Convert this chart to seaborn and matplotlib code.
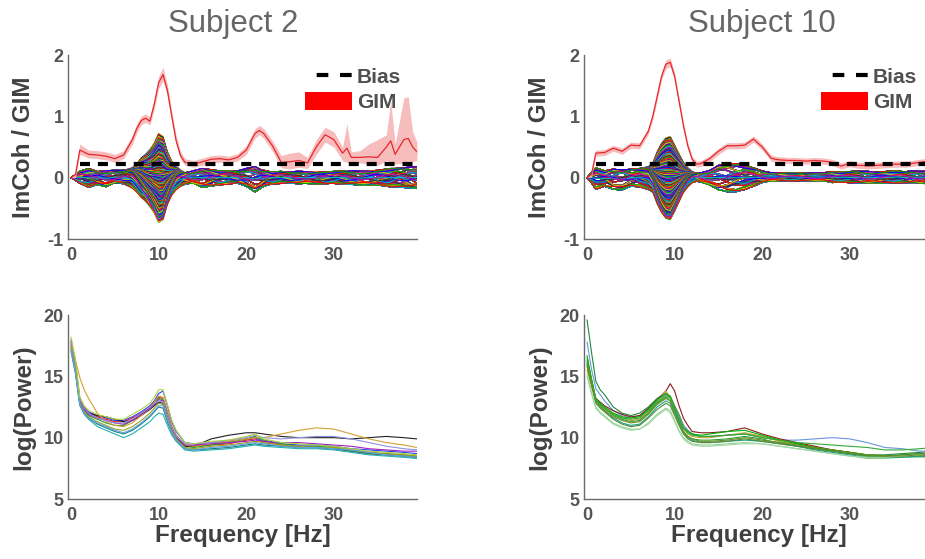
import numpy as np
import pandas as pd
import matplotlib
matplotlib.use("Agg")
import matplotlib.pyplot as plt
import seaborn as sns
from matplotlib.lines import Line2D
from matplotlib.patches import Patch

# ---------------------------------------------------------------- data
SUBJECTS = ["Subject 2", "Subject 10"]

# frequency nodes (Hz) for the connectivity panels
F_TOP = [0, 0.5, 1, 2, 3, 4, 5, 6, 7, 7.5, 8, 8.5, 9, 9.5, 10, 10.5, 11, 11.5,
         12, 12.5, 13, 14, 15, 16, 17, 18, 19, 20, 21, 21.5, 22, 23, 24, 25,
         26, 27, 28, 29, 30, 31, 31.5, 32, 33, 34, 35, 36, 36.5, 37, 38, 38.5,
         39, 39.5]

BIAS = [0.22, 0.22]

# GIM mean and its confidence band
GIM_S2 = [0.0, 0.05, 0.45, 0.38, 0.37, 0.35, 0.31, 0.37, 0.62, 0.80, 0.93, 0.97,
          0.92, 1.20, 1.55, 1.68, 1.42, 1.00, 0.60, 0.36, 0.25, 0.22, 0.26, 0.30,
          0.31, 0.29, 0.33, 0.45, 0.72, 0.77, 0.72, 0.52, 0.25, 0.26, 0.28, 0.24,
          0.50, 0.70, 0.62, 0.40, 0.48, 0.33, 0.33, 0.34, 0.33, 0.50, 0.60, 0.38,
          0.62, 0.64, 0.50, 0.42]
GIM_S2_HI = [0.0, 0.10, 0.55, 0.45, 0.44, 0.42, 0.38, 0.44, 0.70, 0.88, 1.00, 1.04,
             0.99, 1.28, 1.65, 1.80, 1.52, 1.08, 0.68, 0.43, 0.31, 0.28, 0.32, 0.36,
             0.37, 0.35, 0.39, 0.52, 0.80, 0.85, 0.80, 0.60, 0.36, 0.40, 0.42, 0.33,
             0.62, 0.82, 0.75, 0.50, 0.88, 0.42, 0.44, 0.55, 0.62, 0.70, 1.25, 0.55,
             1.30, 1.32, 0.75, 0.58]
GIM_S2_LO = [0.0, 0.0, 0.38, 0.32, 0.31, 0.29, 0.25, 0.31, 0.55, 0.73, 0.86, 0.90,
             0.86, 1.12, 1.46, 1.58, 1.33, 0.93, 0.53, 0.30, 0.20, 0.17, 0.20, 0.24,
             0.25, 0.24, 0.27, 0.38, 0.64, 0.70, 0.64, 0.43, 0.16, 0.14, 0.17, 0.15,
             0.38, 0.58, 0.50, 0.28, 0.25, 0.22, 0.24, 0.22, 0.20, 0.28, 0.25, 0.22,
             0.24, 0.22, 0.26, 0.28]

GIM_S10 = [0.0, 0.05, 0.40, 0.41, 0.48, 0.43, 0.53, 0.52, 0.76, 1.00, 1.32, 1.65,
           1.85, 1.88, 1.65, 1.25, 0.85, 0.52, 0.30, 0.22, 0.23, 0.31, 0.43, 0.52,
           0.52, 0.53, 0.63, 0.50, 0.32, 0.30, 0.29, 0.28, 0.28, 0.27, 0.28, 0.27,
           0.25, 0.19, 0.23, 0.20, 0.20, 0.19, 0.20, 0.21, 0.22, 0.22, 0.22, 0.23,
           0.25, 0.26, 0.26, 0.27]
GIM_S10_HI = [0.0, 0.09, 0.45, 0.46, 0.53, 0.48, 0.58, 0.57, 0.81, 1.06, 1.38, 1.71,
              1.92, 1.95, 1.71, 1.31, 0.91, 0.57, 0.35, 0.27, 0.28, 0.36, 0.48, 0.57,
              0.57, 0.58, 0.68, 0.55, 0.37, 0.35, 0.34, 0.33, 0.33, 0.32, 0.33, 0.32,
              0.30, 0.24, 0.28, 0.25, 0.25, 0.24, 0.25, 0.26, 0.27, 0.27, 0.27, 0.28,
              0.30, 0.31, 0.31, 0.32]
GIM_S10_LO = [0.0, 0.01, 0.35, 0.36, 0.43, 0.38, 0.48, 0.47, 0.71, 0.94, 1.26, 1.59,
              1.78, 1.81, 1.59, 1.19, 0.79, 0.47, 0.25, 0.17, 0.18, 0.26, 0.38, 0.47,
              0.47, 0.48, 0.58, 0.45, 0.27, 0.25, 0.24, 0.23, 0.23, 0.22, 0.23, 0.22,
              0.20, 0.14, 0.18, 0.15, 0.15, 0.14, 0.15, 0.16, 0.17, 0.17, 0.17, 0.18,
              0.20, 0.21, 0.21, 0.22]

# ImCoh of all channel pairs: alpha-band lobe plus background profiles
ALPHA_S2 = [0, 0, 0, 0, 0, 0, 0, 0, 0.03, 0.10, 0.20, 0.28, 0.38, 0.50, 0.66,
            0.62, 0.36, 0.18, 0.07, 0.02, 0, 0, 0, 0, 0, 0, 0, 0, 0, 0, 0, 0, 0,
            0, 0, 0, 0, 0, 0, 0, 0, 0, 0, 0, 0, 0, 0, 0, 0, 0, 0, 0]
BG_UP_S2 = [0, 0.05, 0.10, 0.15, 0.10, 0.11, 0.11, 0.12, 0.13, 0.12, 0.12, 0.10,
            0.08, 0.06, 0.05, 0.05, 0.06, 0.08, 0.11, 0.10, 0.08, 0.11, 0.15, 0.13,
            0.11, 0.10, 0.11, 0.14, 0.18, 0.14, 0.12, 0.09, 0.10, 0.09, 0.10, 0.09,
            0.10, 0.09, 0.10, 0.11, 0.10, 0.11, 0.10, 0.11, 0.12, 0.14, 0.15, 0.15,
            0.16, 0.17, 0.17, 0.18]
BG_LO_S2 = [0, -0.04, -0.08, -0.16, -0.11, -0.14, -0.08, -0.10, -0.14, -0.13,
            -0.12, -0.10, -0.08, -0.06, -0.05, -0.05, -0.07, -0.10, -0.12, -0.12,
            -0.11, -0.08, -0.15, -0.14, -0.11, -0.10, -0.09, -0.14, -0.23, -0.18,
            -0.14, -0.10, -0.09, -0.09, -0.10, -0.09, -0.09, -0.10, -0.09, -0.11,
            -0.11, -0.11, -0.12, -0.11, -0.12, -0.14, -0.15, -0.15, -0.16, -0.17,
            -0.17, -0.17]
BG_MIX1_S2 = [0, 0.03, 0.06, 0.02, -0.05, -0.07, -0.02, 0.05, 0.07, 0.06, 0.04,
              0.0, -0.03, -0.04, -0.03, 0.0, 0.03, 0.05, 0.06, 0.04, 0.0, -0.06,
              -0.08, -0.03, 0.04, 0.07, 0.05, -0.02, -0.09, -0.08, -0.04, 0.03,
              0.06, 0.05, 0.0, -0.05, -0.06, -0.02, 0.04, 0.06, 0.05, 0.02, -0.04,
              -0.07, -0.05, 0.02, 0.05, 0.07, 0.05, 0.02, -0.04, -0.08]
BG_MIX2_S2 = [0, -0.02, -0.05, -0.07, -0.02, 0.05, 0.07, 0.03, -0.04, -0.06, -0.05,
              -0.02, 0.01, 0.03, 0.04, 0.03, 0.0, -0.03, -0.06, -0.05, -0.01, 0.05,
              0.04, -0.03, -0.07, -0.04, 0.03, 0.08, 0.06, 0.02, -0.03, -0.06, -0.03,
              0.03, 0.06, 0.04, -0.02, -0.06, -0.05, 0.0, 0.03, 0.05, 0.06, 0.02,
              -0.04, -0.07, -0.06, -0.02, 0.04, 0.06, 0.07, 0.06]

ALPHA_S10 = [0, 0, 0, 0, 0, 0, 0, 0, 0.02, 0.12, 0.34, 0.50, 0.60, 0.62, 0.48,
             0.33, 0.18, 0.08, 0.02, 0, 0, 0, 0, 0, 0, 0, 0, 0, 0, 0, 0, 0, 0, 0,
             0, 0, 0, 0, 0, 0, 0, 0, 0, 0, 0, 0, 0, 0, 0, 0, 0, 0]
BG_UP_S10 = [0, 0.08, 0.16, 0.11, 0.14, 0.12, 0.14, 0.15, 0.16, 0.12, 0.08, 0.06,
             0.05, 0.05, 0.05, 0.06, 0.07, 0.08, 0.08, 0.07, 0.08, 0.11, 0.20, 0.23,
             0.23, 0.20, 0.16, 0.11, 0.08, 0.08, 0.08, 0.08, 0.08, 0.07, 0.08, 0.08,
             0.10, 0.09, 0.10, 0.11, 0.10, 0.10, 0.09, 0.10, 0.11, 0.10, 0.10, 0.11,
             0.10, 0.11, 0.10, 0.11]
BG_LO_S10 = [0, -0.08, -0.19, -0.14, -0.19, -0.20, -0.14, -0.15, -0.18, -0.12,
             -0.08, -0.06, -0.05, -0.05, -0.06, -0.06, -0.06, -0.07, -0.06, -0.06,
             -0.07, -0.11, -0.19, -0.23, -0.23, -0.19, -0.14, -0.08, -0.05, -0.05,
             -0.05, -0.05, -0.05, -0.05, -0.05, -0.05, -0.08, -0.07, -0.08, -0.09,
             -0.08, -0.08, -0.08, -0.09, -0.08, -0.08, -0.09, -0.08, -0.08, -0.09,
             -0.08, -0.08]
BG_MIX1_S10 = [0, 0.04, 0.07, 0.02, -0.06, -0.04, 0.04, 0.06, 0.02, 0.01, 0.02,
               0.0, -0.02, -0.02, -0.02, 0.0, 0.02, 0.03, 0.03, 0.02, -0.02, -0.06,
               -0.09, -0.05, 0.03, 0.08, 0.06, 0.01, -0.03, -0.03, -0.01, 0.02,
               0.03, 0.01, -0.02, -0.03, -0.01, 0.03, 0.05, 0.03, -0.01, -0.04,
               -0.05, -0.02, 0.03, 0.05, 0.04, 0.0, -0.04, -0.05, -0.02, 0.03]
BG_MIX2_S10 = [0, -0.03, -0.06, -0.06, 0.03, 0.07, 0.02, -0.05, -0.06, -0.03,
               -0.01, 0.0, 0.01, 0.02, 0.02, 0.01, -0.01, -0.02, -0.03, -0.02, 0.02,
               0.06, 0.05, 0.0, -0.06, -0.08, -0.03, 0.02, 0.03, 0.02, -0.01, -0.03,
               -0.02, 0.02, 0.03, 0.01, -0.03, -0.04, -0.02, 0.02, 0.04, 0.05, 0.01,
               -0.03, -0.05, -0.03, 0.01, 0.04, 0.05, 0.02, -0.03, -0.05]

# alpha-lobe loading of each channel pair
PAIR_ALPHA_W = [1.0, 0.94, 0.87, 0.8, 0.73, 0.66, 0.59, 0.52, 0.45, 0.39, 0.33,
                0.27, 0.21, 0.16, 0.11, 0.06, 0.02, -0.03, -0.08, -0.13, -0.19,
                -0.25, -0.31, -0.38, -0.45, -0.52, -0.6, -0.68, -0.76, -0.84,
                -0.92, -1.02]
# background loadings (upper, lower, wiggle 1, wiggle 2)
PAIR_BG_W = [(1.0, 0, 0, 0), (0, 1.0, 0, 0), (0.75, 0, 0.4, 0), (0, 0.75, 0, 0.4),
             (0.5, 0, 0, 0.7), (0, 0.5, 0.7, 0), (0.3, 0, 0.9, 0), (0, 0.3, 0, 0.9),
             (0.15, 0, 0, -1.0), (0, 0.15, -1.0, 0), (0.6, 0, -0.6, 0),
             (0, 0.6, 0, -0.6), (0.9, 0, 0, 0.3), (0, 0.9, 0.3, 0), (0, 0, 1.2, 0),
             (0, 0, 0, 1.2), (0.4, 0, -0.5, 0.5), (0, 0.4, 0.5, -0.5),
             (0.2, 0.2, 0.6, 0.6), (0.2, 0.2, -0.6, -0.6), (0.85, 0, 0.2, -0.2),
             (0, 0.85, -0.2, 0.2), (0.35, 0.35, 0, 0), (0.1, 0, 0.4, -0.4)]

PAIR_COLORS = ["#0000ff", "#00a000", "#ff0000", "#00c0c0", "#c000c0",
               "#d0d000", "#303030"]

# power spectra, one row per channel
F_POW = [0, 0.5, 1, 1.5, 2, 3, 4, 5, 6, 7, 8, 9, 9.5, 10, 10.5, 11, 11.5, 12,
         13, 14, 16, 18, 20, 21, 22, 24, 26, 28, 30, 32, 34, 36, 38, 39.5]

POW_S2 = [
    [18.0, 16.0, 13.2, 12.5, 12.1, 11.8, 11.6, 11.4, 11.4, 11.7, 12.1, 12.6, 13.0, 13.6, 13.8, 12.6, 11.3, 10.5, 9.6, 9.5, 9.6, 9.7, 9.9, 10.0, 9.7, 9.5, 9.4, 9.4, 9.3, 9.1, 9.0, 8.9, 8.8, 8.7],
    [17.6, 15.8, 13.1, 12.4, 12.0, 11.7, 11.5, 11.3, 11.3, 11.6, 12.0, 12.5, 12.9, 13.3, 13.2, 12.1, 10.9, 10.2, 9.4, 9.3, 9.4, 9.5, 9.8, 9.9, 9.6, 9.4, 9.3, 9.2, 9.1, 8.9, 8.7, 8.6, 8.5, 8.4],
    [17.3, 15.6, 12.9, 12.2, 11.8, 11.5, 11.2, 11.0, 11.0, 11.4, 11.9, 12.4, 12.8, 13.2, 13.1, 12.0, 10.8, 10.1, 9.3, 9.2, 9.4, 9.6, 9.9, 10.1, 9.8, 9.5, 9.3, 9.3, 9.2, 9.0, 8.8, 8.7, 8.6, 8.5],
    [17.8, 15.9, 13.0, 12.3, 12.0, 11.8, 11.7, 11.5, 11.3, 11.4, 11.8, 12.3, 12.6, 12.9, 12.8, 11.8, 10.7, 10.0, 9.3, 9.3, 9.9, 10.2, 10.4, 10.4, 10.3, 10.1, 10.0, 10.0, 10.0, 9.9, 10.0, 10.1, 10.0, 9.9],
    [17.8, 16.3, 14.9, 13.9, 13.2, 12.0, 11.3, 11.0, 10.9, 11.2, 11.8, 12.4, 12.9, 13.4, 13.3, 12.2, 11.0, 10.2, 9.4, 9.3, 9.5, 9.7, 9.9, 10.0, 10.0, 10.3, 10.6, 10.8, 10.7, 10.3, 9.9, 9.6, 9.4, 9.2],
    [17.0, 15.2, 12.6, 11.9, 11.5, 10.9, 10.6, 10.3, 10.0, 10.3, 10.8, 11.3, 11.7, 12.0, 11.9, 11.0, 10.2, 9.7, 9.0, 8.9, 9.0, 9.1, 9.3, 9.4, 9.3, 9.2, 9.1, 9.1, 9.0, 8.8, 8.6, 8.5, 8.4, 8.3],
    [17.5, 15.7, 13.0, 12.3, 11.9, 11.6, 11.4, 11.2, 11.1, 11.4, 11.9, 12.4, 12.7, 13.1, 13.0, 11.9, 10.8, 10.1, 9.4, 9.4, 9.5, 9.6, 9.7, 9.8, 9.7, 9.6, 9.6, 9.5, 9.4, 9.3, 9.1, 9.0, 8.9, 8.9],
    [17.7, 15.9, 13.1, 12.4, 12.0, 11.6, 11.4, 11.2, 11.2, 11.5, 12.0, 12.5, 12.8, 13.0, 12.9, 11.9, 10.8, 10.1, 9.5, 9.5, 9.6, 9.8, 10.0, 10.2, 10.0, 9.9, 10.0, 10.1, 10.1, 9.9, 9.6, 9.3, 9.1, 9.0],
    [17.2, 15.4, 12.7, 12.0, 11.6, 11.1, 10.8, 10.5, 10.3, 10.6, 11.1, 11.7, 12.1, 12.5, 12.4, 11.3, 10.4, 9.8, 9.1, 9.0, 9.1, 9.2, 9.4, 9.5, 9.4, 9.3, 9.2, 9.2, 9.1, 8.9, 8.7, 8.6, 8.5, 8.4],
    [17.4, 15.5, 12.8, 12.1, 11.7, 11.3, 11.0, 10.7, 10.6, 10.9, 11.4, 12.0, 12.4, 12.8, 12.7, 11.6, 10.5, 9.9, 9.2, 9.1, 9.3, 9.4, 9.6, 9.7, 9.6, 9.4, 9.3, 9.2, 9.2, 9.0, 8.8, 8.7, 8.6, 8.5],
    [17.1, 15.3, 12.7, 12.0, 11.6, 11.2, 10.9, 10.6, 10.4, 10.7, 11.2, 11.8, 12.2, 12.6, 12.6, 11.5, 10.4, 9.8, 9.1, 9.0, 9.2, 9.3, 9.5, 9.6, 9.5, 9.3, 9.2, 9.2, 9.1, 9.0, 8.8, 8.6, 8.5, 8.4],
    [18.2, 16.4, 13.3, 12.6, 12.2, 11.9, 11.7, 11.5, 11.5, 11.9, 12.3, 12.8, 13.3, 13.9, 13.9, 12.7, 11.4, 10.6, 9.6, 9.5, 9.7, 9.8, 10.1, 10.3, 9.9, 9.6, 9.5, 9.4, 9.3, 9.1, 8.9, 8.8, 8.7, 8.6],
]
POW_S2_COLORS = ["#2040ff", "#e02020", "#20a020", "#202020", "#d4a030", "#20b0b0",
                 "#a020c0", "#9090e0", "#108080", "#a0a020", "#60a0e0", "#b0d040"]

POW_S10 = [
    [19.6, 17.0, 14.6, 13.9, 13.5, 12.5, 12.0, 11.8, 12.0, 12.5, 13.2, 13.6, 13.4, 12.6, 11.9, 11.0, 10.6, 10.3, 10.1, 10.1, 10.2, 10.3, 10.1, 9.9, 9.8, 9.5, 9.2, 9.0, 8.8, 8.6, 8.6, 8.7, 8.8, 8.9],
    [17.8, 15.6, 14.0, 13.5, 13.0, 12.2, 11.8, 11.6, 11.8, 12.3, 13.0, 13.5, 13.3, 12.5, 11.8, 11.0, 10.6, 10.3, 10.1, 10.1, 10.2, 10.3, 10.0, 9.9, 9.8, 9.8, 9.9, 10.0, 9.9, 9.6, 9.2, 9.1, 8.9, 8.9],
    [16.0, 14.5, 13.2, 12.9, 12.6, 12.2, 11.9, 11.7, 11.8, 12.4, 13.1, 13.8, 14.4, 13.8, 12.6, 11.6, 11.0, 10.5, 10.4, 10.4, 10.5, 10.8, 10.3, 10.1, 9.9, 9.6, 9.3, 9.0, 8.8, 8.5, 8.5, 8.5, 8.5, 8.5],
    [15.5, 14.2, 13.0, 12.6, 12.3, 11.9, 11.6, 11.4, 11.5, 12.1, 12.9, 13.8, 13.3, 12.4, 11.5, 10.7, 10.3, 10.1, 10.0, 10.0, 10.2, 10.4, 10.1, 9.9, 9.7, 9.4, 9.1, 8.9, 8.7, 8.5, 8.4, 8.5, 8.6, 8.6],
    [16.7, 14.8, 13.1, 12.7, 12.4, 11.8, 11.5, 11.3, 11.4, 12.0, 12.8, 13.3, 13.0, 12.2, 11.3, 10.5, 10.1, 9.9, 9.8, 9.8, 9.9, 10.1, 9.9, 9.7, 9.6, 9.3, 9.1, 8.9, 8.7, 8.5, 8.4, 8.4, 8.5, 8.5],
    [15.0, 13.6, 12.4, 12.0, 11.7, 11.1, 10.8, 10.6, 10.7, 11.2, 11.9, 12.4, 12.2, 11.4, 10.6, 10.0, 9.7, 9.5, 9.4, 9.4, 9.5, 9.6, 9.5, 9.4, 9.3, 9.1, 8.9, 8.7, 8.5, 8.3, 8.3, 8.4, 8.4, 8.4],
    [16.2, 14.6, 13.0, 12.6, 12.2, 11.6, 11.2, 11.0, 11.1, 11.7, 12.5, 13.0, 12.8, 12.0, 11.2, 10.4, 10.0, 9.8, 9.6, 9.6, 9.7, 9.8, 9.7, 9.6, 9.5, 9.3, 9.0, 8.8, 8.6, 8.4, 8.4, 8.4, 8.5, 8.5],
    [16.5, 14.8, 13.2, 12.8, 12.5, 12.0, 11.7, 11.6, 11.7, 12.3, 13.1, 13.6, 13.3, 12.4, 11.6, 10.8, 10.5, 10.3, 10.2, 10.3, 10.5, 10.6, 10.2, 10.0, 9.8, 9.5, 9.2, 9.0, 8.8, 8.6, 8.5, 8.6, 8.7, 8.7],
    [15.8, 14.3, 12.8, 12.4, 12.1, 11.5, 11.1, 10.9, 11.0, 11.6, 12.3, 12.8, 12.6, 11.8, 11.0, 10.3, 9.9, 9.7, 9.6, 9.6, 9.7, 9.9, 9.7, 9.6, 9.5, 9.3, 9.1, 8.9, 8.7, 8.5, 8.5, 8.6, 8.7, 8.8],
    [15.2, 13.8, 12.5, 12.1, 11.8, 11.2, 10.9, 10.7, 10.7, 11.1, 11.8, 12.3, 12.0, 11.3, 10.5, 9.9, 9.6, 9.4, 9.3, 9.3, 9.4, 9.5, 9.5, 9.4, 9.3, 9.1, 8.9, 8.7, 8.5, 8.4, 8.4, 8.5, 8.6, 8.7],
    [16.3, 14.7, 13.1, 12.7, 12.4, 11.9, 11.6, 11.5, 11.6, 12.2, 12.9, 13.4, 13.2, 12.4, 11.6, 10.8, 10.4, 10.2, 10.1, 10.1, 10.2, 10.3, 10.0, 9.9, 9.8, 9.6, 9.5, 9.4, 9.3, 9.2, 9.0, 9.0, 9.1, 9.2],
    [16.0, 14.4, 12.9, 12.5, 12.2, 11.7, 11.4, 11.2, 11.3, 11.9, 12.7, 13.2, 13.0, 12.1, 11.3, 10.5, 10.1, 9.9, 9.7, 9.7, 9.8, 10.0, 9.8, 9.7, 9.6, 9.4, 9.2, 9.0, 8.8, 8.6, 8.5, 8.5, 8.6, 8.6],
]
POW_S10_COLORS = ["#1f8a3a", "#6a96dc", "#8b1a1a", "#c8a030", "#2ca02c", "#8fd08f",
                  "#1f9e89", "#00b000", "#4d8c3a", "#a6d8a6", "#33aa33", "#6b8e23"]

X_TICKS = [0, 10, 20, 30]
TOP_Y_TICKS = [-1, 0, 1, 2]
BOT_Y_TICKS = [5, 10, 15, 20]

# ---------------------------------------------------------------- style
sns.set_style("white")
plt.rcParams["font.family"] = ["Liberation Sans", "DejaVu Sans"]
TICK_COLOR = "#555555"
LABEL_COLOR = "#404040"
SPINE_COLOR = "#6a6a6a"
BIAS_DASH = (0, (2.4, 1.9))

W, H = 925, 559
fig = plt.figure(figsize=(W / 100, H / 100), dpi=100)


def px_axes(left, top, right, bottom):
    return fig.add_axes([left / W, 1 - bottom / H, (right - left) / W, (bottom - top) / H])


ax_tl = px_axes(68, 55, 417, 239)
ax_tr = px_axes(584, 55, 933, 239)
ax_bl = px_axes(68, 315, 417, 499)
ax_br = px_axes(584, 315, 933, 499)


def style_axes(ax, yticks, ylim, ylabel, xlabel=None):
    ax.set_xlim(-0.35, 39.5)
    ax.set_ylim(*ylim)
    ax.set_xticks(X_TICKS)
    ax.set_yticks(yticks)
    ax.set_xticklabels([str(t) for t in X_TICKS])
    ax.set_yticklabels([str(t) for t in yticks])
    for s in ("top", "right"):
        ax.spines[s].set_visible(False)
    for s in ("left", "bottom"):
        ax.spines[s].set_color(SPINE_COLOR)
        ax.spines[s].set_linewidth(1.0)
    ax.tick_params(axis="both", direction="in", length=4, width=0.9, color=SPINE_COLOR,
                   labelsize=13, labelcolor=TICK_COLOR)
    ax.tick_params(axis="x", pad=6)
    ax.tick_params(axis="y", pad=3)
    for lab in ax.get_xticklabels() + ax.get_yticklabels():
        lab.set_fontweight("bold")
    ax.set_ylabel(ylabel, fontsize=17.5, fontweight="bold", color=LABEL_COLOR)
    ax.yaxis.set_label_coords(-0.095, 0.5)
    if xlabel:
        ax.set_xlabel(xlabel, fontsize=17.5, fontweight="bold", color=LABEL_COLOR)
        ax.xaxis.set_label_coords(0.5, -0.135)
    else:
        ax.set_xlabel("")
    ax.set_facecolor("white")


def draw_connectivity(ax, alpha, bg_up, bg_lo, bg_m1, bg_m2, gim, gim_lo, gim_hi, bias):
    f = np.asarray(F_TOP, dtype=float)
    alpha = np.asarray(alpha, dtype=float)
    bgs = [np.asarray(b, float) for b in (bg_up, bg_lo, bg_m1, bg_m2)]
    rows = []
    k = 0
    for aw in PAIR_ALPHA_W:
        for wts in PAIR_BG_W:
            vals = aw * alpha + sum(w * b for w, b in zip(wts, bgs))
            rows.append(pd.DataFrame({"f": f, "v": vals, "pair": k}))
            k += 1
    df = pd.concat(rows, ignore_index=True)
    palette = [PAIR_COLORS[i % len(PAIR_COLORS)] for i in range(k)]
    sns.lineplot(data=df, x="f", y="v", hue="pair", palette=palette, legend=False,
                 estimator=None, sort=False, linewidth=0.7, ax=ax, zorder=2)

    ax.fill_between(f, gim_lo, gim_hi, color="#f7bcbc", linewidth=0, zorder=3)
    sns.lineplot(x=f, y=np.asarray(gim, float), color="#e8262a", linewidth=0.9,
                 estimator=None, ax=ax, zorder=4)
    fb = f[f >= 1]
    sns.lineplot(x=fb, y=np.full(len(fb), bias), color="black", linewidth=3.0,
                 linestyle=BIAS_DASH, estimator=None, ax=ax, zorder=5)

    handles = [Line2D([], [], color="black", lw=3.0, ls=(2.8, (2.8, 2.8))),
               Patch(facecolor="#ff0000", edgecolor="none")]
    leg = ax.legend(handles, ["Bias", "GIM"], loc="upper right",
                    bbox_to_anchor=(0.955, 0.935), frameon=False,
                    prop={"size": 15, "weight": "bold"}, labelcolor="#505050",
                    handlelength=2.25, handleheight=0.95, handletextpad=0.25,
                    labelspacing=0.25, borderpad=0, borderaxespad=0)
    leg.set_zorder(10)


def draw_power(ax, spectra, colors):
    f = np.asarray(F_POW, dtype=float)
    rows = [pd.DataFrame({"f": f, "p": s, "ch": i}) for i, s in enumerate(spectra)]
    df = pd.concat(rows, ignore_index=True)
    sns.lineplot(data=df, x="f", y="p", hue="ch", palette=colors, legend=False,
                 estimator=None, sort=False, linewidth=0.8, ax=ax)


draw_connectivity(ax_tl, ALPHA_S2, BG_UP_S2, BG_LO_S2, BG_MIX1_S2, BG_MIX2_S2,
                  GIM_S2, GIM_S2_LO, GIM_S2_HI, BIAS[0])
draw_connectivity(ax_tr, ALPHA_S10, BG_UP_S10, BG_LO_S10, BG_MIX1_S10, BG_MIX2_S10,
                  GIM_S10, GIM_S10_LO, GIM_S10_HI, BIAS[1])
draw_power(ax_bl, POW_S2, POW_S2_COLORS)
draw_power(ax_br, POW_S10, POW_S10_COLORS)

for ax in (ax_tl, ax_tr):
    style_axes(ax, TOP_Y_TICKS, (-1, 2), "ImCoh / GIM")
for ax in (ax_bl, ax_br):
    style_axes(ax, BOT_Y_TICKS, (5, 20), "log(Power)", "Frequency [Hz]")

fig.text(233 / W, 1 - 32 / H, SUBJECTS[0], ha="center", va="baseline",
         fontsize=22.5, color="#666666")
fig.text(762 / W, 1 - 32 / H, SUBJECTS[1], ha="center", va="baseline",
         fontsize=22.5, color="#666666")

fig.savefig("out.png", dpi=100, facecolor="white")
